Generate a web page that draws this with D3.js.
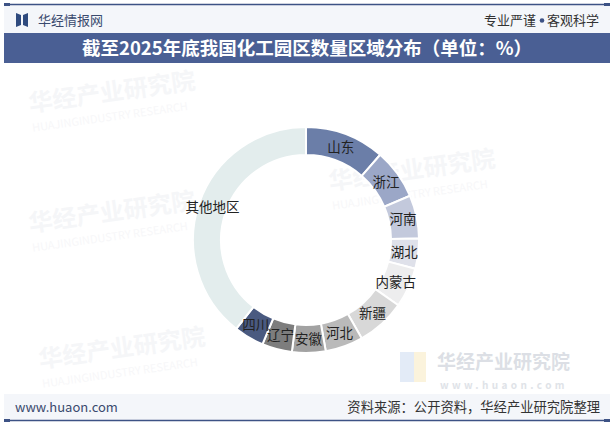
<!DOCTYPE html>
<html>
<head>
<meta charset="utf-8">
<script src="https://cdn.jsdelivr.net/npm/d3@7"></script>
<style>
  body { margin: 0; background: #fff; }
  text { font-family: "Noto Sans CJK SC", "Noto Sans", sans-serif; }
</style>
</head>
<body>
<div id="chart"></div>
<script>
// region shares (%), clockwise from 12 o'clock
let regions = ['山东', '浙江', '河南', '湖北', '内蒙古', '新疆', '河北', '安徽', '辽宁', '四川', '其他地区'];
let shares = [11.4, 7.2, 6.2, 4.3, 5.7, 7.0, 5.4, 4.8, 4.3, 4.3, 39.4];
let colors = ['#6b7ea8', '#9ba7c7', '#c3c9dc', '#dfe1ea', '#ededee', '#d8d8d8',
  '#bababa', '#a2a2a2', '#7d7d7d', '#4a5a80', '#e3eded'];

let width = 614, height = 425;
let svg = d3.select('#chart').append('svg')
  .attr('width', width)
  .attr('height', height);

// faint watermarks
let marks = [[30, 112], [330, 190], [30, 232], [40, 368]];
let wm = svg.append('g');
marks.forEach(m => {
  let g = wm.append('g').attr('transform', 'translate(' + m[0] + ',' + m[1] + ') rotate(-8)');
  g.append('text').text('华经产业研究院')
    .attr('font-size', 24).attr('font-weight', 'bold').attr('fill', '#f5f6f8');
  g.append('text').text('HUAJINGINDUSTRY RESEARCH').attr('y', 20)
    .attr('font-size', 11).attr('fill', '#f7f7f9');
});

// header
svg.append('rect').attr('x', 4).attr('y', 5).attr('width', 606).attr('height', 28).attr('fill', '#f4f6fa');
svg.append('line').attr('x1', 4).attr('x2', 610).attr('y1', 4.5).attr('y2', 4.5)
  .attr('stroke', '#3d5285').attr('stroke-width', 1.5);
svg.append('rect').attr('x', 4).attr('y', 3).attr('width', 6).attr('height', 3).attr('fill', '#3d5285');
svg.append('rect').attr('x', 604).attr('y', 3).attr('width', 6).attr('height', 3).attr('fill', '#3d5285');
svg.append('path').attr('d', 'M16,13 L21,15 L21,25 L16,27 Z M28,13 L23,15 L23,25 L28,27 Z').attr('fill', '#2f4a7e');
svg.append('text').attr('x', 38).attr('y', 25).text('华经情报网')
  .attr('font-size', 13).attr('fill', '#3a4a6e');
svg.append('text').attr('x', 536).attr('y', 25).attr('text-anchor', 'end').text('专业严谨')
  .attr('font-size', 13).attr('fill', '#333');
svg.append('circle').attr('cx', 542).attr('cy', 20.5).attr('r', 2.3).attr('fill', '#3d5285');
svg.append('text').attr('x', 547).attr('y', 25).text('客观科学')
  .attr('font-size', 13).attr('fill', '#333');

svg.append('rect').attr('x', 4).attr('y', 33).attr('width', 606).attr('height', 30).attr('fill', '#4a5f94');
svg.append('text').attr('x', width / 2).attr('y', 55).attr('text-anchor', 'middle')
  .text('截至2025年底我国化工园区数量区域分布（单位：%）')
  .attr('font-size', 18.5).attr('font-weight', 'bold').attr('fill', '#fff');

// bottom-right logo watermark
let logo = svg.append('g');
logo.append('rect').attr('x', 400).attr('y', 352).attr('width', 14).attr('height', 30).attr('fill', '#e3ebf7');
logo.append('rect').attr('x', 414).attr('y', 352).attr('width', 12).attr('height', 30).attr('fill', '#fbf3dc');
logo.append('text').attr('x', 437).attr('y', 369).text('华经产业研究院')
  .attr('font-size', 19).attr('font-weight', 'bold').attr('fill', '#dcdfe5');
logo.append('text').attr('x', 440).attr('y', 389).text('www.huaon.com')
  .attr('font-size', 10).attr('font-weight', 'bold').attr('letter-spacing', 3.4).attr('fill', '#e0e3e8');

// footer
svg.append('rect').attr('x', 4).attr('y', 394).attr('width', 606).attr('height', 26).attr('fill', '#f4f6fa');
svg.append('line').attr('x1', 4).attr('x2', 610).attr('y1', 420.5).attr('y2', 420.5)
  .attr('stroke', '#3d5285').attr('stroke-width', 1.5);
svg.append('rect').attr('x', 4).attr('y', 419).attr('width', 6).attr('height', 3).attr('fill', '#3d5285');
svg.append('rect').attr('x', 604).attr('y', 419).attr('width', 6).attr('height', 3).attr('fill', '#3d5285');
svg.append('text').attr('x', 15).attr('y', 412).text('www.huaon.com')
  .attr('font-size', 13).attr('fill', '#3a4a6e');
svg.append('text').attr('x', 600).attr('y', 412).attr('text-anchor', 'end')
  .text('资料来源：公开资料，华经产业研究院整理')
  .attr('font-size', 13.3).attr('fill', '#333');

// donut
let cx = 306, cy = 240;
let outer = 113, inner = 85;
let pie = d3.pie().sort(null).value(d => d);
let arc = d3.arc().innerRadius(inner).outerRadius(outer);
let labelArc = d3.arc().innerRadius((inner + outer) / 2).outerRadius((inner + outer) / 2);
let arcs = pie(shares);

let donut = svg.append('g').attr('transform', 'translate(' + cx + ',' + cy + ')');
donut.selectAll('path.slice')
  .data(arcs)
  .enter()
  .append('path')
  .attr('class', 'slice')
  .attr('d', arc)
  .attr('fill', (d, i) => colors[i])
  .attr('stroke', '#fff')
  .attr('stroke-width', 2);

donut.selectAll('text.label')
  .data(arcs)
  .enter()
  .append('text')
  .attr('class', 'label')
  .attr('transform', d => 'translate(' + labelArc.centroid(d) + ')')
  .attr('text-anchor', 'middle')
  .attr('dy', '0.35em')
  .text((d, i) => regions[i])
  .attr('font-size', 13.5)
  .attr('fill', '#222');
</script>
</body>
</html>
